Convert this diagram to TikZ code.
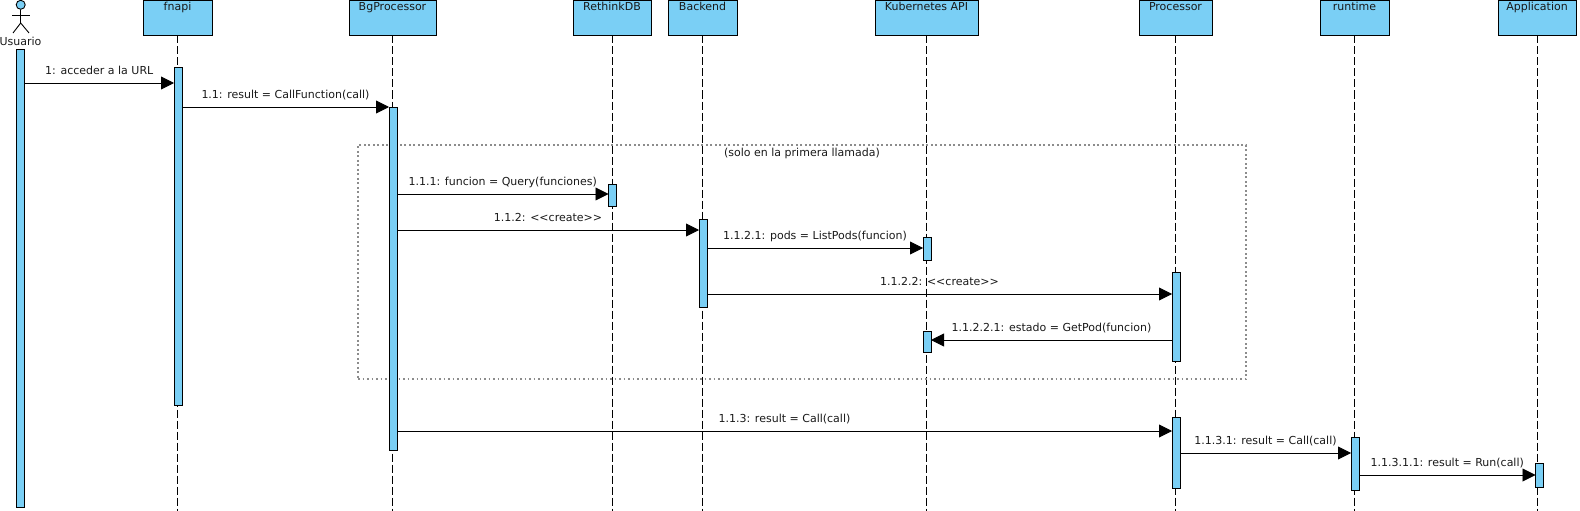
\documentclass[tikz,border=0pt]{standalone}
\usepackage{fontspec}
\setmainfont{DejaVu Sans}
\usetikzlibrary{arrows.meta}
\definecolor{uml}{HTML}{7ACFF5}
\newcommand{\crt}{\textless\kern0pt\textless\kern0pt create\kern0pt\textgreater\kern0pt\textgreater}
\begin{document}
\begin{tikzpicture}[x=1pt,y=-1pt,
  font=\fontsize{11}{13}\selectfont,
  head/.style={draw=black, fill=uml, line width=0.9pt, minimum height=35pt, inner sep=0pt, outer sep=0pt, anchor=north},
  lbl/.style={anchor=base, inner sep=0pt, text=black!90},
  lifeline/.style={line width=0.9pt, dash pattern=on 8pt off 3pt},
  actbar/.style={draw=black, fill=uml, line width=0.9pt, minimum width=8pt, inner sep=0pt, outer sep=0pt},
  msg/.style={line width=0.9pt, -{Triangle[length=13pt,width=13pt]}},
  msglbl/.style={anchor=base, inner sep=0pt, midway, yshift=8.5pt, text=black!90},
  framebox/.style={draw=black!45, line width=1.9pt, dash pattern=on 1.9pt off 2.6pt, inner sep=0pt, outer sep=0pt}]
\useasboundingbox (0,0) rectangle (1580,511);

% actor
\node[circle, draw=black, fill=uml, line width=0.9pt, minimum size=9pt, inner sep=0pt] (uhead) at (20.7,4.8) {};
\coordinate (uhip) at (20.7,23);
\draw[line width=0.9pt] (uhead.south) -- (uhip);
\draw[line width=0.9pt] (12,15) -- (30,15);
\draw[line width=0.9pt] (13,33) -- (uhip) -- (29,33);
\node[lbl] (usuario) at (20.5,45.5) {Usuario};

% heads
\node[head, minimum width=69pt] (fnapi) at (177.5,0.5) {};
\node[head, minimum width=87pt] (bgp) at (392.5,0.5) {};
\node[head, minimum width=78pt] (rdb) at (612,0.5) {};
\node[head, minimum width=69pt] (backend) at (702.5,0.5) {};
\node[head, minimum width=103pt] (kapi) at (926.5,0.5) {};
\node[head, minimum width=73pt] (proc) at (1175.5,0.5) {};
\node[head, minimum width=69pt] (runtime) at (1354.5,0.5) {};
\node[head, minimum width=78pt] (app) at (1537,0.5) {};
\node[lbl] (fnapi-t) at (fnapi.north |- 0,10.5) {fnapi};
\node[lbl] (bgp-t) at (bgp.north |- 0,10.5) {BgProcessor};
\node[lbl] (rdb-t) at (rdb.north |- 0,10.5) {RethinkDB};
\node[lbl] (backend-t) at (backend.north |- 0,10.5) {Backend};
\node[lbl] (kapi-t) at (kapi.north |- 0,10.5) {Kubernetes API};
\node[lbl] (proc-t) at (proc.north |- 0,10.5) {Processor};
\node[lbl] (runtime-t) at (runtime.north |- 0,10.5) {runtime};
\node[lbl] (app-t) at (app.north |- 0,10.5) {Application};

% lifelines
\foreach \h in {fnapi,bgp,rdb,backend,kapi,proc,runtime,app}
  \draw[lifeline] (\h.south) -- (\h.south |- 0,511);

% combined fragment frame
\node[framebox, minimum width=888pt, minimum height=234pt] (frag) at (802,262) {};
\node[lbl] (frag-t) at (frag.north |- 0,156) {(solo en la primera llamada)};

% activation bars
\node[actbar, minimum height=458pt] (ua) at (20.5,278) {};
\node[actbar, minimum height=338pt] (fa) at (178,236) {};
\node[actbar, minimum height=343pt] (ba) at (393,278.5) {};
\node[actbar, minimum height=22pt] (ra) at (612.5,195) {};
\node[actbar, minimum height=88pt] (bea) at (703,263) {};
\node[actbar, minimum height=23pt] (ka1) at (927,248.5) {};
\node[actbar, minimum height=89pt] (pa1) at (1176,316.5) {};
\node[actbar, minimum height=21pt] (ka2) at (927,341.5) {};
\node[actbar, minimum height=71pt] (pa2) at (1176,452.5) {};
\node[actbar, minimum height=53pt] (rta) at (1355,463.5) {};
\node[actbar, minimum height=24pt] (aa) at (1539.5,475) {};

% messages
\draw[msg] (ua.east |- 0,83) -- node[msglbl] {1: acceder a la URL} (fa.west |- 0,83);
\draw[msg] (fa.east |- 0,107) -- node[msglbl] {1.1: result = CallFunction(call)} (ba.west |- 0,107);
\draw[msg] (ba.east |- 0,194) -- node[msglbl] {1.1.1: funcion = Query(funciones)} (ra.west |- 0,194);
\draw[msg] (ba.east |- 0,230) -- node[msglbl] {1.1.2: \crt} (bea.west |- 0,230);
\draw[msg] (bea.east |- 0,248) -- node[msglbl] {1.1.2.1: pods = ListPods(funcion)} (ka1.west |- 0,248);
\draw[msg] (bea.east |- 0,294) -- node[msglbl] {1.1.2.2: \crt} (pa1.west |- 0,294);
\draw[msg] (pa1.west |- 0,340) -- node[msglbl] {1.1.2.2.1: estado = GetPod(funcion)} (ka2.east |- 0,340);
\draw[msg] (ba.east |- 0,431) -- node[msglbl] {1.1.3: result = Call(call)} (pa2.west |- 0,431);
\draw[msg] (pa2.east |- 0,453) -- node[msglbl] {1.1.3.1: result = Call(call)} (rta.west |- 0,453);
\draw[msg] (rta.east |- 0,475) -- node[msglbl] {1.1.3.1.1: result = Run(call)} (aa.west |- 0,475);
\end{tikzpicture}
\end{document}
